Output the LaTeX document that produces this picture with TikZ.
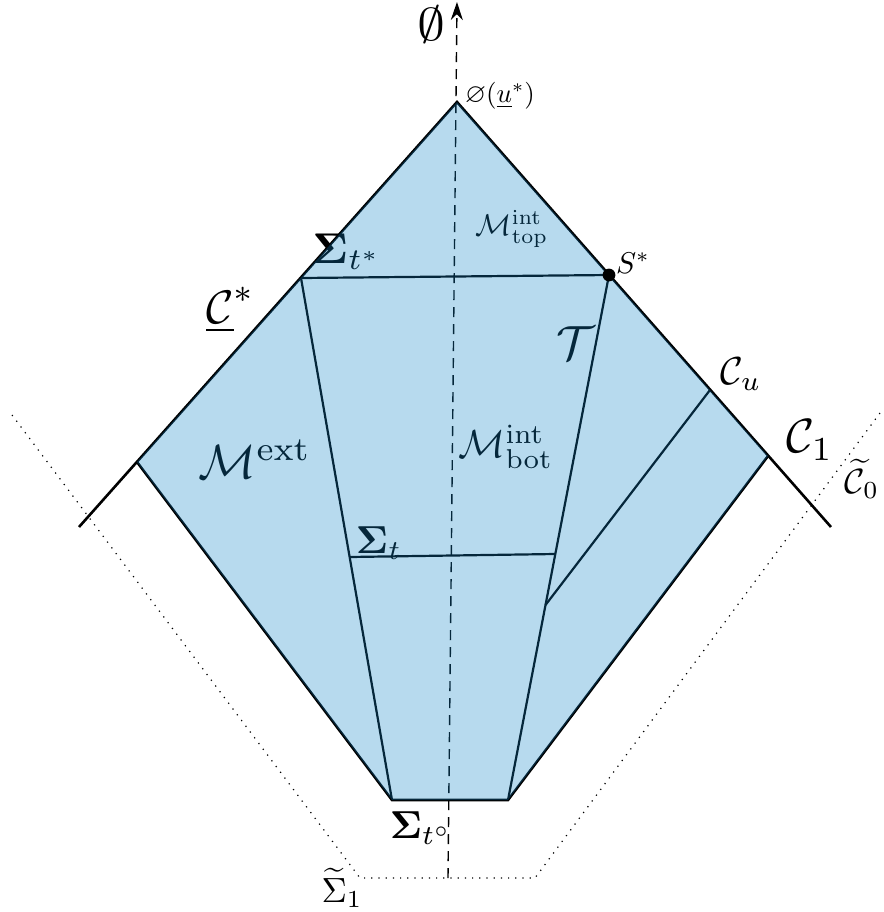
\documentclass[tikz,border=0pt]{standalone}
\usepackage{amsmath,amssymb,bm}
\usetikzlibrary{arrows.meta}
\definecolor{regionblue}{RGB}{18,132,198}
\begin{document}
\begin{tikzpicture}[x=0.5pt,y=-0.5pt,
  edge/.style={line width=1.3pt},
  inner/.style={line width=1.1pt},
  dotline/.style={line width=0.6pt, dash pattern=on 0.6pt off 3pt},
  axisline/.style={line width=0.7pt, dash pattern=on 5pt off 3.5pt},
  lbl/.style={inner sep=0pt}]
\useasboundingbox (0,0) rectangle (884,912);
% key points
\coordinate (apex) at (457,102);
\coordinate (Lc) at (137,462);
\coordinate (Lend) at (79,527);
\coordinate (Rc) at (768,456);
\coordinate (Rend) at (831,527);
\coordinate (BL) at (392,800);
\coordinate (BR) at (508,800);
\coordinate (Sstar) at (609,275);
\coordinate (Ltop) at (301,278);
\coordinate (Lmid) at (349.5,557);
\coordinate (Rmid) at (555,554);
\coordinate (Cu1) at (710,390);
\coordinate (Cu2) at (545.5,605);
\coordinate (axB) at (448,878);
\coordinate (axT) at (457,2);
\coordinate (dL1) at (12,415);
\coordinate (dL2) at (360,878);
\coordinate (dR2) at (535,878);
\coordinate (dR1) at (880,413);
% dotted outer curve
\draw[dotline] (dL1) -- (dL2) -- (dR2) -- (dR1);
% axis
\draw[axisline, -{Stealth[length=9pt,width=6pt]}] (axB) -- (axT);
% cone lines
\draw[edge] (Lend) -- (apex) -- (Rend);
\draw[edge] (Lc) -- (BL) -- (BR) -- (Rc);
% inner lines
\draw[inner] (Ltop) -- (Sstar);
\draw[inner] (Ltop) -- (BL);
\draw[inner] (Sstar) -- (BR);
\draw[inner] (Lmid) -- (Rmid);
\draw[inner] (Cu1) -- (Cu2);
% labels inside region
\node[lbl, scale=1.5] (mtop) at (512,229) {$\mathcal{M}^{\mathrm{int}}_{\mathrm{top}}$};
\node[lbl, scale=2.15] (sigtstar) at (347,252) {$\bm{\Sigma}_{t^*}$};
\node[lbl, scale=2.4] (calT) at (576,343) {$\mathcal{T}$};
\node[lbl, scale=2.4] (mext) at (255,459) {$\mathcal{M}^{\mathrm{ext}}$};
\node[lbl, scale=1.95] (mbot) at (506,447) {$\mathcal{M}^{\mathrm{int}}_{\mathrm{bot}}$};
\node[lbl, scale=1.95] (sigt) at (379,543) {$\bm{\Sigma}_{t}$};
% translucent fill
\fill[regionblue, opacity=0.3] (apex) -- (Rc) -- (BR) -- (BL) -- (Lc) -- cycle;
% dot
\fill (Sstar) circle (3.2pt);
% outer labels
\node[lbl, xscale=2.8, yscale=2.3] (empt) at (431,25) {$\emptyset$};
\node[lbl, scale=1.35] (emptu) at (500,96) {$\varnothing(\underline{u}^*)$};
\node[lbl, scale=1.5] (slab) at (633,263) {$S^*$};
\node[lbl, scale=2.35] (cstar) at (231,310) {$\underline{\mathcal{C}}^*$};
\node[lbl, scale=1.95] (cu) at (741,374) {$\mathcal{C}_u$};
\node[lbl, scale=2.4] (c1) at (810,440) {$\mathcal{C}_1$};
\node[lbl, scale=1.75] (c0) at (862,479) {$\widetilde{\mathcal{C}}_0$};
\node[lbl, scale=1.95] (sigto) at (421,828) {$\bm{\Sigma}_{t^\circ}$};
\node[lbl, scale=1.75] (sig1) at (342,888) {$\widetilde{\Sigma}_1$};
\end{tikzpicture}
\end{document}
